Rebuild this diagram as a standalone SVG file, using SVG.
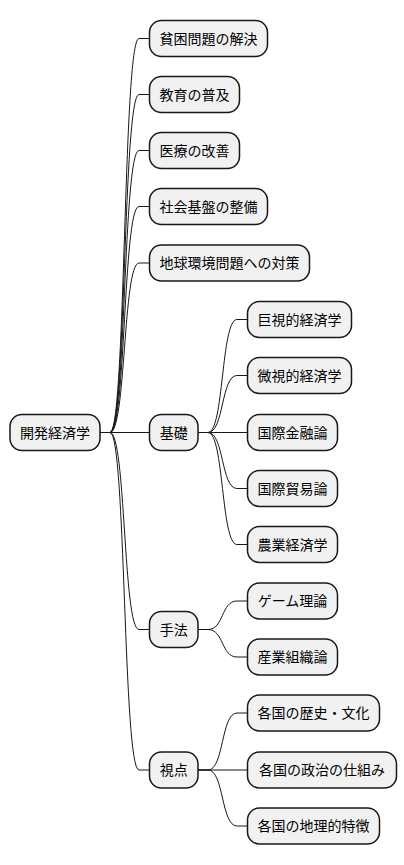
<svg xmlns="http://www.w3.org/2000/svg" width="404" height="865" viewBox="0 0 404 865">
<style>
.n rect{fill:#F1F1F1;stroke:#181818;stroke-width:1.5}
.n text{font-family:"Noto Sans CJK JP","Noto Sans",sans-serif;font-size:14px;fill:#000;text-anchor:middle}
#connectors path{fill:none;stroke:#181818;stroke-width:1}
</style>
<rect width="404" height="865" fill="#fff"/>
<g id="connectors">
<path d="M100,432.5 L110,432.5 C126,432.5 123,38.5 139,38.5 L149.5,38.5"/>
<path d="M100,432.5 L110,432.5 C126,432.5 123,94.5 139,94.5 L149.5,94.5"/>
<path d="M100,432.5 L110,432.5 C126,432.5 123,150.5 139,150.5 L149.5,150.5"/>
<path d="M100,432.5 L110,432.5 C126,432.5 123,206.5 139,206.5 L149.5,206.5"/>
<path d="M100,432.5 L110,432.5 C126,432.5 123,263 139,263 L149.5,263"/>
<path d="M100,432.5 L149.5,432.5"/>
<path d="M100,432.5 L110,432.5 C126,432.5 123,629.5 139,629.5 L149.5,629.5"/>
<path d="M100,432.5 L110,432.5 C126,432.5 123,770 139,770 L149.5,770"/>
<path d="M198,432.5 L208,432.5 C224,432.5 221,319.5 237,319.5 L247.5,319.5"/>
<path d="M198,432.5 L208,432.5 C224,432.5 221,375.5 237,375.5 L247.5,375.5"/>
<path d="M198,432.5 L247.5,432.5"/>
<path d="M198,432.5 L208,432.5 C224,432.5 221,488.5 237,488.5 L247.5,488.5"/>
<path d="M198,432.5 L208,432.5 C224,432.5 221,544.5 237,544.5 L247.5,544.5"/>
<path d="M198,629.5 L208,629.5 C224,629.5 221,601 237,601 L247.5,601"/>
<path d="M198,629.5 L208,629.5 C224,629.5 221,657 237,657 L247.5,657"/>
<path d="M198,770 L208,770 C224,770 221,713 237,713 L247.5,713"/>
<path d="M198,770 L247.5,770"/>
<path d="M198,770 L208,770 C224,770 221,826 237,826 L247.5,826"/>
</g>
<g id="root" class="n"><rect x="10" y="414.5" width="90" height="36" rx="12"/><text x="55" y="437.5">開発経済学</text></g>
<g id="n1" class="n"><rect x="149.5" y="20.5" width="118" height="36" rx="12"/><text x="208.5" y="43.5">貧困問題の解決</text></g>
<g id="n2" class="n"><rect x="149.5" y="76.5" width="90" height="36" rx="12"/><text x="194.5" y="99.5">教育の普及</text></g>
<g id="n3" class="n"><rect x="149.5" y="132.5" width="90" height="36" rx="12"/><text x="194.5" y="155.5">医療の改善</text></g>
<g id="n4" class="n"><rect x="149.5" y="188.5" width="118" height="36" rx="12"/><text x="208.5" y="211.5">社会基盤の整備</text></g>
<g id="n5" class="n"><rect x="149.5" y="245" width="160" height="36" rx="12"/><text x="229.5" y="268">地球環境問題への対策</text></g>
<g id="kiso" class="n"><rect x="149.5" y="414.5" width="48.5" height="36" rx="12"/><text x="173.75" y="437.5">基礎</text></g>
<g id="k1" class="n"><rect x="247.5" y="301.5" width="104" height="36" rx="12"/><text x="299.5" y="324.5">巨視的経済学</text></g>
<g id="k2" class="n"><rect x="247.5" y="357.5" width="104" height="36" rx="12"/><text x="299.5" y="380.5">微視的経済学</text></g>
<g id="k3" class="n"><rect x="247.5" y="414.5" width="90" height="36" rx="12"/><text x="292.5" y="437.5">国際金融論</text></g>
<g id="k4" class="n"><rect x="247.5" y="470.5" width="90" height="36" rx="12"/><text x="292.5" y="493.5">国際貿易論</text></g>
<g id="k5" class="n"><rect x="247.5" y="526.5" width="90" height="36" rx="12"/><text x="292.5" y="549.5">農業経済学</text></g>
<g id="shuho" class="n"><rect x="149.5" y="611.5" width="48.5" height="36" rx="12"/><text x="173.75" y="634.5">手法</text></g>
<g id="s1" class="n"><rect x="247.5" y="583" width="90" height="36" rx="12"/><text x="292.5" y="606">ゲーム理論</text></g>
<g id="s2" class="n"><rect x="247.5" y="639" width="90" height="36" rx="12"/><text x="292.5" y="662">産業組織論</text></g>
<g id="shiten" class="n"><rect x="149.5" y="752" width="48.5" height="36" rx="12"/><text x="173.75" y="775">視点</text></g>
<g id="v1" class="n"><rect x="247.5" y="695" width="132" height="36" rx="12"/><text x="313.5" y="718">各国の歴史・文化</text></g>
<g id="v2" class="n"><rect x="247.5" y="752" width="149" height="36" rx="12"/><text x="322" y="775">各国の政治の仕組み</text></g>
<g id="v3" class="n"><rect x="247.5" y="808" width="132" height="36" rx="12"/><text x="313.5" y="831">各国の地理的特徴</text></g>
</svg>
